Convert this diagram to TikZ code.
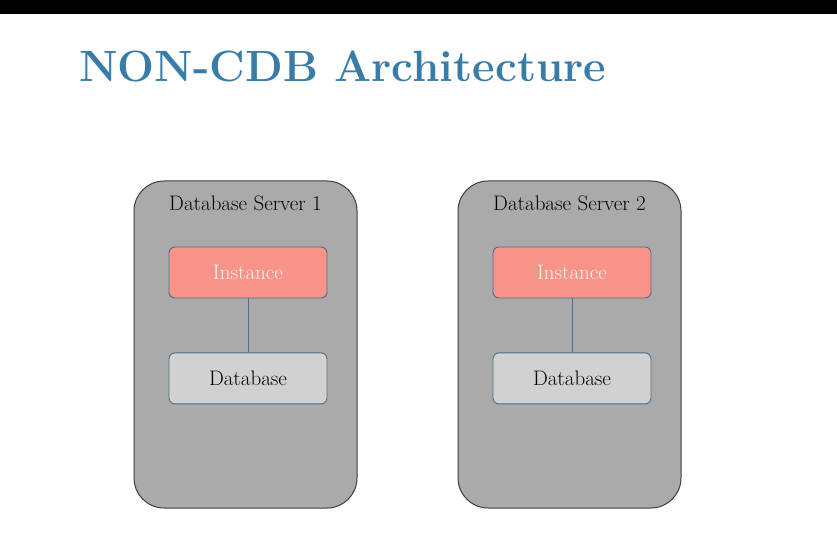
\documentclass[tikz,border=0pt]{standalone}
\usepackage{tikz}
\usepackage{xcolor}
\usetikzlibrary{positioning}

\definecolor{titleblue}{HTML}{3A7CA8}
\definecolor{srvgray}{HTML}{AAAAAA}
\definecolor{srvline}{HTML}{3C3C3C}
\definecolor{instred}{HTML}{F79388}
\definecolor{insttext}{HTML}{FFF2F0}
\definecolor{dbgray}{HTML}{D1D1D1}
\definecolor{partline}{HTML}{4D6E85}

\begin{document}
\begin{tikzpicture}[
x=1pt, y=-1pt,
server/.style = {
  draw=srvline,
  fill=srvgray,
  line width=1pt,
  rounded corners=30pt,
  minimum width=223pt,
  minimum height=327pt},
srvtitle/.style = {anchor=base, font=\fontsize{21}{24}\selectfont, text=black},
part/.style = {
  draw=partline,
  line width=0.9pt,
  rounded corners=6pt,
  minimum width=158pt,
  minimum height=51pt,
  font=\fontsize{21}{24}\selectfont},
inst/.style = {part, fill=instred, text=insttext},
db/.style = {part, fill=dbgray, text=black},
link/.style = {draw=partline, line width=0.8pt},
node distance = 54pt,
]
\useasboundingbox (0,0) rectangle (837,540);
\fill[black] (0,0) rectangle (837,14);

\node[anchor=base west, text=titleblue, inner sep=0pt,
  font=\fontsize{43.8}{50}\selectfont\bfseries] (title) at (79,82) {NON-CDB Architecture};

% first server
\node[server] (srv1) at (245.5,344.5) {};
\node[srvtitle] (name1) at (245.5,210) {Database Server 1};
\node[inst] (inst1) at (248,272.5) {Instance};
\node[db, below=of inst1] (db1) {Database};
\path[link] (inst1) -- (db1);

% second server
\node[server] (srv2) at (569.5,344.5) {};
\node[srvtitle] (name2) at (569.5,210) {Database Server 2};
\node[inst] (inst2) at (572,272.5) {Instance};
\node[db, below=of inst2] (db2) {Database};
\path[link] (inst2) -- (db2);

\end{tikzpicture}
\end{document}
